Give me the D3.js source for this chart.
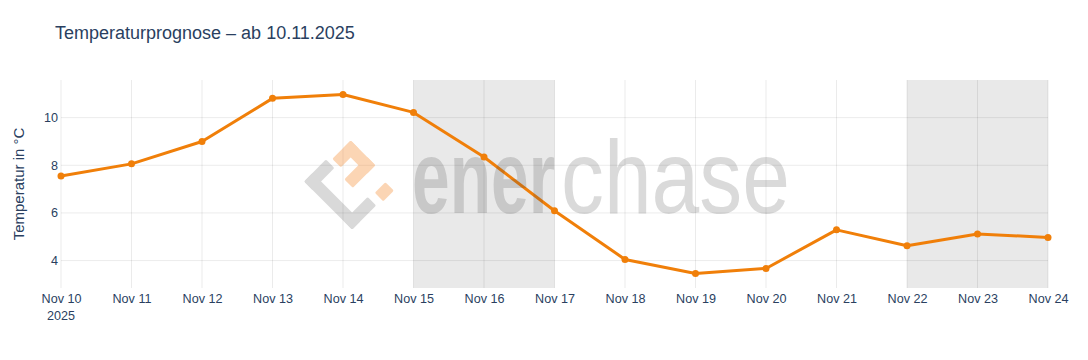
<!DOCTYPE html>
<html>
<head>
<meta charset="utf-8">
<script src="https://cdn.jsdelivr.net/npm/d3@7"></script>
<style>
    body { margin: 0; background: #fff; }
    svg text { font-family: "Liberation Sans", Arial, sans-serif; fill: #2a3f5f; }
</style>
</head>
<body>
<svg id="chart" width="1088" height="360"></svg>
<script>
var dates = ["2025-11-10", "2025-11-11", "2025-11-12", "2025-11-13", "2025-11-14", "2025-11-15", "2025-11-16",
             "2025-11-17", "2025-11-18", "2025-11-19", "2025-11-20", "2025-11-21", "2025-11-22", "2025-11-23", "2025-11-24"];
var temps = [7.55, 8.06, 9.0, 10.81, 10.97, 10.22, 8.35, 6.09, 4.05, 3.46, 3.67, 5.29, 4.62, 5.12, 4.97];
var weekends = [["2025-11-15", "2025-11-17"], ["2025-11-22", "2025-11-24"]];
var yTicks = [4, 6, 8, 10];

var svg = d3.select("#chart");
var margin = {left: 61, right: 40, top: 80, bottom: 72};
var width = 1088 - margin.left - margin.right;
var height = 360 - margin.top - margin.bottom;
var parse = d3.timeParse("%Y-%m-%d");

var x = d3.scaleTime()
    .domain([parse(dates[0]), parse(dates[dates.length - 1])])
    .range([0, width]);
var y = d3.scaleLinear()
    .domain([2.85, 11.58])
    .range([height, 0]);

var plot = svg.append("g").attr("transform", "translate(" + margin.left + "," + margin.top + ")");

//weekend shading
plot.selectAll("rect.wk")
    .data(weekends)
    .enter().append("rect")
    .attr("class", "wk")
    .attr("x", function(d){ return x(parse(d[0])); })
    .attr("width", function(d){ return x(parse(d[1])) - x(parse(d[0])); })
    .attr("y", 0)
    .attr("height", height)
    .attr("fill", "#e9e9e9");

//grid
plot.selectAll("line.gx")
    .data(dates)
    .enter().append("line")
    .attr("x1", function(d){ return x(parse(d)); })
    .attr("x2", function(d){ return x(parse(d)); })
    .attr("y1", 0)
    .attr("y2", height)
    .attr("stroke", "#000")
    .attr("stroke-opacity", 0.08);

plot.selectAll("line.gy")
    .data(yTicks)
    .enter().append("line")
    .attr("x1", 0)
    .attr("x2", width)
    .attr("y1", function(d){ return y(d); })
    .attr("y2", function(d){ return y(d); })
    .attr("stroke", "#000")
    .attr("stroke-opacity", 0.08);

//axes
var fmt = d3.timeFormat("%b %d");
var xAxis = plot.append("g")
    .attr("transform", "translate(0," + height + ")")
    .call(d3.axisBottom(x).tickValues(dates.map(parse)).tickFormat(fmt).tickSize(0).tickPadding(6));
xAxis.select(".domain").remove();
xAxis.selectAll("text").style("font-size", "12.6px").attr("fill", "#2a3f5f");
xAxis.append("text")
    .attr("x", x(parse(dates[0])))
    .attr("y", 31.5)
    .attr("text-anchor", "middle")
    .style("font-size", "12.6px")
    .text("2025");

var yAxis = plot.append("g")
    .call(d3.axisLeft(y).tickValues(yTicks).tickSize(0).tickPadding(3));
yAxis.select(".domain").remove();
yAxis.selectAll("text").style("font-size", "12.6px").attr("fill", "#2a3f5f");

svg.append("text")
    .attr("transform", "translate(24," + (margin.top + height / 2) + ") rotate(-90)")
    .attr("text-anchor", "middle")
    .style("font-size", "15px")
    .text("Temperatur in °C");

svg.append("text")
    .attr("x", 55)
    .attr("y", 39)
    .style("font-size", "18px")
    .text("Temperaturprognose – ab 10.11.2025");

//watermark
var wm = svg.append("g");
var logo = wm.append("g").attr("transform", "translate(350,185) rotate(45)");
var grayBars = [[-35, -1, 12, 31], [-35, 18, 68, 12], [21, -4, 12, 34]];
var orangeBars = [[-31, -32, 12, 26], [-31, -32, 35, 12], [-8, -32, 12, 32], [23, -27, 12, 15]];
logo.append("g").attr("opacity", 0.2)
    .selectAll("rect")
    .data(grayBars)
    .enter().append("rect")
    .attr("x", function(d){ return d[0]; })
    .attr("y", function(d){ return d[1]; })
    .attr("width", function(d){ return d[2]; })
    .attr("height", function(d){ return d[3]; })
    .attr("rx", 1.5)
    .attr("fill", "#444");
logo.append("g").attr("opacity", 0.33)
    .selectAll("rect")
    .data(orangeBars)
    .enter().append("rect")
    .attr("x", function(d){ return d[0]; })
    .attr("y", function(d){ return d[1]; })
    .attr("width", function(d){ return d[2]; })
    .attr("height", function(d){ return d[3]; })
    .attr("rx", 1.5)
    .attr("fill", "#f58220");

//squeeze the wordmark horizontally to the width it has in the picture
function wordmark(txt, x0, w, weight){
    var t = wm.append("text")
        .style("font-size", "104px")
        .style("font-weight", weight)
        .style("font-family", "'Liberation Sans Narrow', 'Liberation Sans', Arial, sans-serif")
        .style("fill", "#444")
        .style("fill-opacity", 0.2)
        .text(txt);
    var sx = w / t.node().getComputedTextLength();
    t.attr("transform", "translate(" + x0 + ",213) scale(" + sx + ",1)");
}
wordmark("ener", 412, 143, "bold");
wordmark("chase", 561, 229, "normal");

//line + markers
var line = d3.line()
    .x(function(d, i){ return x(parse(dates[i])); })
    .y(function(d){ return y(d); });

plot.append("path")
    .datum(temps)
    .attr("d", line)
    .attr("fill", "none")
    .attr("stroke", "#f07f09")
    .attr("stroke-width", 3)
    .attr("stroke-linejoin", "round");

plot.selectAll("circle")
    .data(temps)
    .enter().append("circle")
    .attr("cx", function(d, i){ return x(parse(dates[i])); })
    .attr("cy", function(d){ return y(d); })
    .attr("r", 3.5)
    .attr("fill", "#f07f09");
</script>
</body>
</html>
